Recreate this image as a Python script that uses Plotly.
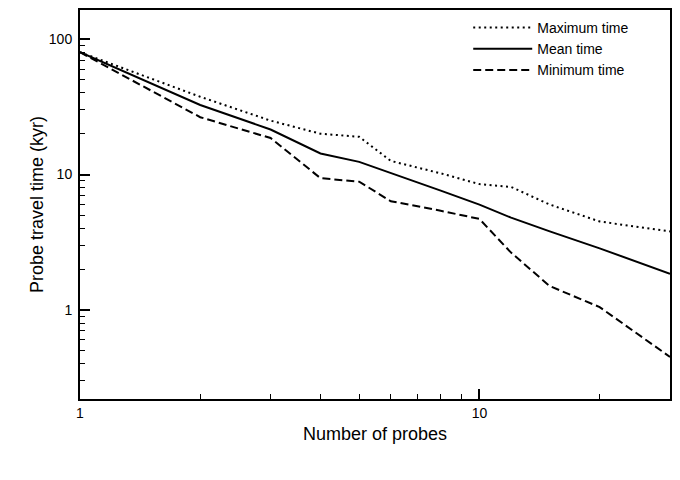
import plotly.graph_objects as go
import numpy as np

n_probes = [1, 2, 3, 4, 5, 6, 8, 10, 12, 15, 20, 30]
max_time = [80, 37.5, 25, 20.0, 19.0, 12.6, 10.2, 8.5, 8.1, 6.0, 4.5, 3.8]
mean_time = [80, 32.6, 21.5, 14.3, 12.4, 10.3, 7.6, 6.0, 4.8, 3.8, 2.85, 1.85]
min_time = [80, 26.5, 18.6, 9.4, 8.85, 6.35, 5.4, 4.7, 2.65, 1.5, 1.05, 0.45]

x_ticks = [1, 10]
y_ticks = [1, 10, 100]
x_minor = [2, 3, 4, 5, 6, 7, 8, 9, 20, 30]
y_minor = [0.3, 0.4, 0.5, 0.6, 0.7, 0.8, 0.9, 2, 3, 4, 5, 6, 7, 8, 9,
           20, 30, 40, 50, 60, 70, 80, 90]

FONT = "Liberation Sans, Arial, Helvetica, sans-serif"

fig = go.Figure()
fig.add_trace(go.Scatter(x=n_probes, y=max_time, mode="lines", name="Maximum time",
                         line=dict(color="black", width=2, dash="2px,3.5px")))
fig.add_trace(go.Scatter(x=n_probes, y=mean_time, mode="lines", name="Mean time",
                         line=dict(color="black", width=2)))
fig.add_trace(go.Scatter(x=n_probes, y=min_time, mode="lines", name="Minimum time",
                         line=dict(color="black", width=2, dash="8px,4px")))

fig.update_layout(
    width=672, height=472,
    margin=dict(l=72, r=10, t=2, b=81, autoexpand=False),
    paper_bgcolor="white", plot_bgcolor="white",
    font=dict(family=FONT, color="black", size=14),
    showlegend=True,
    legend=dict(x=0.658, y=0.995, xanchor="left", yanchor="top",
                bgcolor="rgba(0,0,0,0)", font=dict(size=14),
                itemwidth=59, tracegroupgap=0),
)
fig.update_xaxes(
    type="log", range=[0, np.log10(30)],
    tickvals=x_ticks, ticktext=[str(v) for v in x_ticks],
    ticks="inside", ticklen=10, tickwidth=1.5, tickcolor="black",
    showline=True, linecolor="black", linewidth=2, mirror=True,
    showgrid=False, zeroline=False, automargin=False,
    minor=dict(tickvals=x_minor, ticks="inside", ticklen=5, tickcolor="black", tickwidth=1, showgrid=False),
    title=dict(text="Number of probes", font=dict(size=18), standoff=8),
    tickfont=dict(size=14),
)
fig.update_yaxes(
    type="log", range=[np.log10(0.22), np.log10(164)],
    tickvals=y_ticks, ticktext=[str(v) for v in y_ticks],
    ticks="inside", ticklen=10, tickwidth=1.5, tickcolor="black",
    showline=True, linecolor="black", linewidth=2, mirror=True,
    showgrid=False, zeroline=False, automargin=False,
    ticklabelstandoff=3,
    minor=dict(tickvals=y_minor, ticks="inside", ticklen=5, tickcolor="black", tickwidth=1, showgrid=False),
    title=dict(text="Probe travel time (kyr)", font=dict(size=18), standoff=1),
    tickfont=dict(size=14),
)

fig.write_html("out.html")
